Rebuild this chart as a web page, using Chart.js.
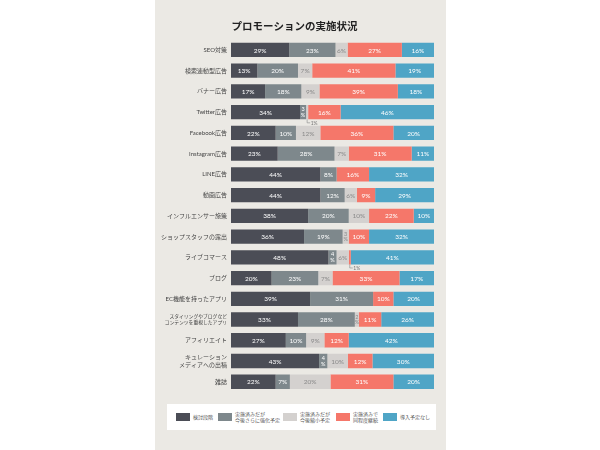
<!DOCTYPE html>
<html><head><meta charset="utf-8">
<script src="https://cdn.jsdelivr.net/npm/chart.js@4/dist/chart.umd.min.js"></script>
<style>
html,body{margin:0;padding:0;background:#fff;width:600px;height:450px;overflow:hidden;font-family:Lato,"Noto Sans CJK JP",sans-serif;}
#panel{position:absolute;left:155px;top:0;width:291px;height:450px;background:#ebe9e4;}
#wrap{position:absolute;left:0;top:0;width:291px;height:400px;}
#legend{position:absolute;left:12px;top:404px;width:269px;height:26px;background:#fff;}
.li{position:absolute;top:0;height:26px;display:flex;align-items:center;font-size:5px;line-height:6.5px;color:#555;}
.sw{width:14px;height:8px;margin-right:3px;flex:none;}
</style></head><body>
<div id="panel">
<div id="wrap"><canvas id="c" width="291" height="400"></canvas></div>
<div id="legend"></div>
</div>
<script>
const categories = [
  "SEO対策","検索連動型広告","バナー広告","Twitter広告","Facebook広告","Instagram広告",
  "LINE広告","動画広告","インフルエンサー施策","ショップスタッフの露出","ライブコマース",
  "ブログ","EC機能を持ったアプリ",["スタイリングやブログなど","コンテンツを重視したアプリ"],
  "アフィリエイト",["キュレーション","メディアへの出稿"],"雑誌"
];
const seriesNames = [["検討段階"],["実施済みだが","今後さらに強化予定"],["実施済みだが","今後縮小予定"],["実施済みで","同程度継続"],["導入予定なし"]];
const considering = [29,13,17,34,22,23,44,44,38,36,48,20,39,33,27,43,22];
const expanding   = [23,20,18,3,10,28,8,12,20,19,4,23,31,28,10,4,7];
const shrinking   = [6,7,9,1,12,7,0,6,10,3,6,7,0,2,9,10,20];
const continuing  = [27,41,39,16,36,31,16,9,22,10,1,33,10,11,12,12,31];
const noPlan      = [16,19,18,46,20,11,32,29,10,32,41,17,20,26,42,30,20];
const colors = ["#4b4d56","#7e888c","#d4d1cf","#f5776a","#4fa5c6"];
const labelColors = ["#fff","#fff","#8a8a8a","#fff","#fff"];

const raw = [considering, expanding, shrinking, continuing, noPlan];
const totals = categories.map((_, i) => raw.reduce((s, a) => s + a[i], 0));
const FONT = 'Lato, "Noto Sans CJK JP", sans-serif';

const valueLabels = {
  id: 'valueLabels',
  afterDatasetsDraw(chart) {
    const ctx = chart.ctx;
    ctx.save();
    chart.data.datasets.forEach((ds, di) => {
      const meta = chart.getDatasetMeta(di);
      meta.data.forEach((el, i) => {
        const v = raw[di][i];
        if (!v) return;
        const p = el.getProps(['x','y','base','height'], true);
        const cx = (p.x + p.base) / 2, cy = p.y;
        ctx.fillStyle = labelColors[di];
        ctx.textAlign = 'center';
        ctx.textBaseline = 'middle';
        if (v === 1) {
          const bottom = cy + p.height / 2;
          ctx.strokeStyle = '#888';
          ctx.lineWidth = 0.6;
          ctx.beginPath();
          ctx.moveTo(cx, bottom);
          ctx.lineTo(cx, bottom + 3.5);
          ctx.lineTo(cx + 3, bottom + 3.5);
          ctx.stroke();
          ctx.fillStyle = '#777';
          ctx.font = '5px ' + FONT;
          ctx.textAlign = 'left';
          ctx.fillText(v + '%', cx + 3.5, bottom + 3.8);
        } else if (v <= 4) {
          ctx.font = '5.5px ' + FONT;
          ctx.fillText(String(v), cx, cy - 2.8);
          ctx.fillText('%', cx, cy + 3);
        } else {
          ctx.font = '6.5px ' + FONT;
          ctx.fillText(v + '%', cx, cy + 0.5);
        }
      });
    });
    ctx.restore();
  }
};

new Chart(document.getElementById('c'), {
  type: 'bar',
  data: {
    labels: categories,
    datasets: raw.map((arr, di) => ({
      label: seriesNames[di].join(''),
      data: arr.map((v, i) => v / totals[i] * 100),
      backgroundColor: colors[di],
      borderWidth: 0,
      barPercentage: 0.69,
      categoryPercentage: 1
    }))
  },
  options: {
    indexAxis: 'y',
    responsive: false,
    animation: false,
    layout: { padding: { left: 0, right: 12, top: 0, bottom: 1 } },
    plugins: {
      legend: { display: false },
      tooltip: { enabled: false },
      title: {
        display: true,
        text: 'プロモーションの実施状況',
        color: '#222',
        font: { family: FONT, size: 10.5, weight: 'bold' },
        padding: { top: 20, bottom: 7 }
      }
    },
    scales: {
      x: { stacked: true, min: 0, max: 100, display: false },
      y: {
        stacked: true,
        grid: { display: false, drawTicks: false },
        border: { display: false },
        ticks: {
          color: '#444',
          padding: 4,
          autoSkip: false,
          font: (c) => ({ family: FONT, size: (c.index === 13 ? 4.8 : 6), lineHeight: (c.index === 13 ? 1.4 : 1.3) })
        },
        afterFit(scale) { scale.width = 76; }
      }
    }
  },
  plugins: [valueLabels]
});

// legend
const legend = document.getElementById('legend');
const lefts = [9, 51, 116, 169, 216];
seriesNames.forEach((n, i) => {
  const d = document.createElement('div');
  d.className = 'li';
  d.style.left = lefts[i] + 'px';
  d.innerHTML = '<div class="sw" style="background:' + colors[i] + '"></div><div>' + n.join('<br>') + '</div>';
  legend.appendChild(d);
});
</script>
</body></html>
